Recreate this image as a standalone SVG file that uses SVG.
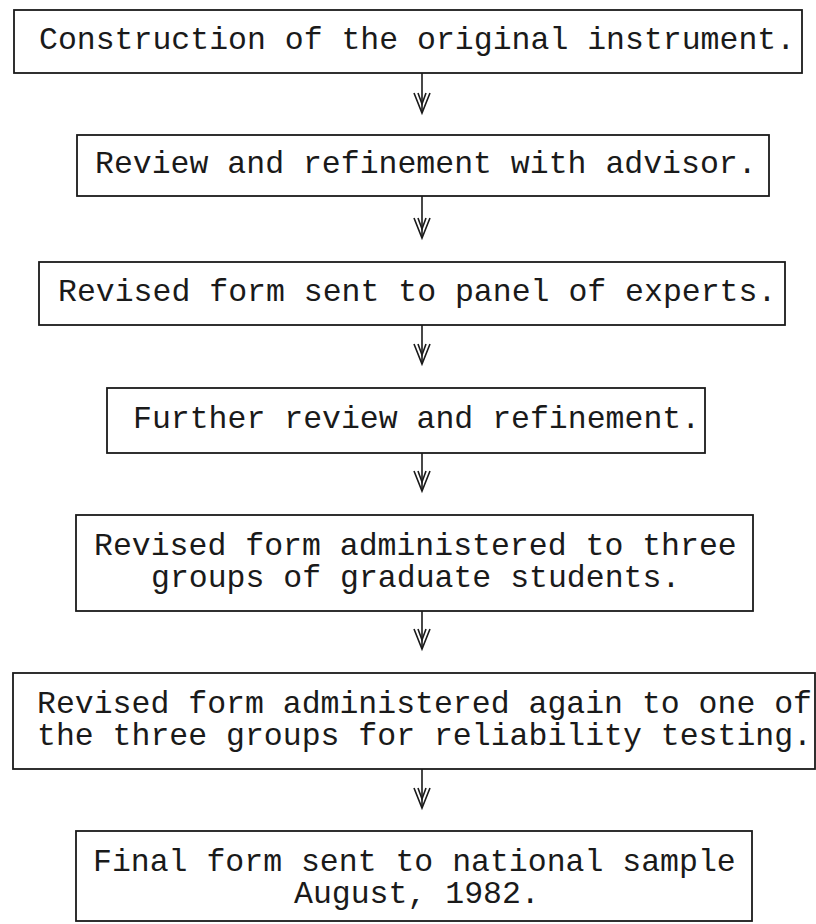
<svg xmlns="http://www.w3.org/2000/svg" width="816" height="924" viewBox="0 0 816 924">
<style>
.box{fill:none;stroke:#1a1a1a;stroke-width:1.8}
.t{font-family:"Liberation Mono","DejaVu Sans Mono",monospace;font-size:31.5px;fill:#1a1a1a}
.c{fill:none;stroke:#1a1a1a;stroke-width:1.6}
</style>
<defs>
<g id="ah"><path d="M-8,-20 L0,0 L8,-20 M-4,-20 L0,-9 L4,-20"/></g>
</defs>
<rect width="816" height="924" fill="#ffffff"/>
<g id="n1"><rect class="box" x="14" y="10" width="788" height="63"/><text class="t" x="39" y="49">Construction of the original instrument.</text></g>
<g id="n2"><rect class="box" x="77" y="135" width="692" height="61"/><text class="t" x="95" y="173">Review and refinement with advisor.</text></g>
<g id="n3"><rect class="box" x="39" y="262" width="746" height="63"/><text class="t" x="58" y="301">Revised form sent to panel of experts.</text></g>
<g id="n4"><rect class="box" x="107" y="388" width="598" height="65"/><text class="t" x="133" y="428">Further review and refinement.</text></g>
<g id="n5"><rect class="box" x="76" y="515" width="677" height="96"/><text class="t" x="94" y="555">Revised form administered to three</text><text class="t" x="151" y="587">groups of graduate students.</text></g>
<g id="n6"><rect class="box" x="13" y="673" width="802" height="96"/><text class="t" x="37" y="713">Revised form administered again to one of</text><text class="t" x="37" y="745">the three groups for reliability testing.</text></g>
<g id="n7"><rect class="box" x="76" y="831" width="676" height="90"/><text class="t" x="93" y="871">Final form sent to national sample</text><text class="t" x="294" y="903">August, 1982.</text></g>
<g id="connectors" class="c">
<path d="M422,73 V113"/><use href="#ah" x="422" y="113"/>
<path d="M422,196 V238"/><use href="#ah" x="422" y="238"/>
<path d="M422,325 V364"/><use href="#ah" x="422" y="364"/>
<path d="M422,453 V491"/><use href="#ah" x="422" y="491"/>
<path d="M422,611 V649"/><use href="#ah" x="422" y="649"/>
<path d="M422,769 V808"/><use href="#ah" x="422" y="808"/>
</g>
</svg>
